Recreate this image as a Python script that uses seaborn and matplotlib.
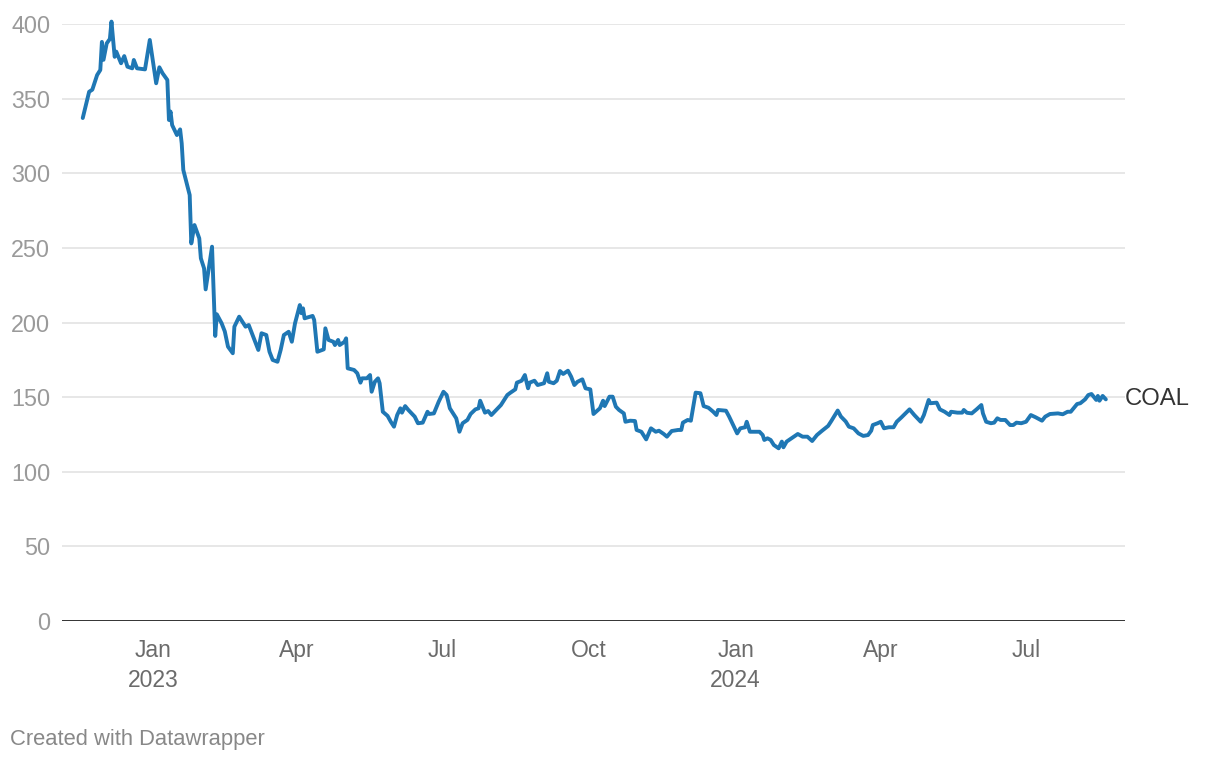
import matplotlib
matplotlib.use("Agg")
import matplotlib.pyplot as plt
import matplotlib.transforms as mtransforms
import seaborn as sns
import pandas as pd
import numpy as np

# ---- data ----
dates = [
    "2022-11-18", "2022-11-22", "2022-11-24", "2022-11-27", "2022-11-29", "2022-11-30",
    "2022-12-01", "2022-12-03", "2022-12-05", "2022-12-06", "2022-12-08", "2022-12-09",
    "2022-12-12", "2022-12-14", "2022-12-16", "2022-12-19", "2022-12-20", "2022-12-22",
    "2022-12-27", "2022-12-30",
    "2023-01-03", "2023-01-05", "2023-01-07", "2023-01-10", "2023-01-11", "2023-01-12",
    "2023-01-13", "2023-01-16", "2023-01-18", "2023-01-19", "2023-01-20", "2023-01-24",
    "2023-01-25", "2023-01-27", "2023-01-30", "2023-01-31", "2023-02-02", "2023-02-03",
    "2023-02-07", "2023-02-09", "2023-02-10", "2023-02-13", "2023-02-15", "2023-02-17",
    "2023-02-20", "2023-02-21", "2023-02-24", "2023-02-28", "2023-03-02", "2023-03-04",
    "2023-03-08", "2023-03-10", "2023-03-13", "2023-03-15", "2023-03-17", "2023-03-20",
    "2023-03-22", "2023-03-24", "2023-03-27", "2023-03-29", "2023-03-31", "2023-04-03",
    "2023-04-04", "2023-04-05", "2023-04-06", "2023-04-11", "2023-04-12", "2023-04-14",
    "2023-04-18", "2023-04-19", "2023-04-21", "2023-04-24", "2023-04-25", "2023-04-27",
    "2023-04-28", "2023-05-01", "2023-05-02", "2023-05-03", "2023-05-07", "2023-05-09",
    "2023-05-11", "2023-05-12", "2023-05-15", "2023-05-17", "2023-05-18", "2023-05-20",
    "2023-05-22", "2023-05-23", "2023-05-25", "2023-05-28", "2023-05-30", "2023-06-01",
    "2023-06-03", "2023-06-05", "2023-06-06", "2023-06-08", "2023-06-10", "2023-06-14",
    "2023-06-16", "2023-06-19", "2023-06-22", "2023-06-23", "2023-06-26", "2023-06-29",
    "2023-07-02", "2023-07-04", "2023-07-06", "2023-07-10", "2023-07-12", "2023-07-14",
    "2023-07-17", "2023-07-19", "2023-07-22", "2023-07-24", "2023-07-25", "2023-07-28",
    "2023-07-30", "2023-08-01", "2023-08-04", "2023-08-07", "2023-08-11", "2023-08-13",
    "2023-08-16", "2023-08-17", "2023-08-20", "2023-08-22", "2023-08-24", "2023-08-25",
    "2023-08-28", "2023-08-30", "2023-09-03", "2023-09-05", "2023-09-06", "2023-09-09",
    "2023-09-11", "2023-09-13", "2023-09-15", "2023-09-18", "2023-09-20", "2023-09-22",
    "2023-09-24", "2023-09-27", "2023-09-29", "2023-10-02", "2023-10-04", "2023-10-08",
    "2023-10-10", "2023-10-11", "2023-10-14", "2023-10-16", "2023-10-18", "2023-10-20",
    "2023-10-23", "2023-10-24", "2023-10-27", "2023-10-30", "2023-10-31", "2023-11-03",
    "2023-11-06", "2023-11-09", "2023-11-12", "2023-11-14", "2023-11-17", "2023-11-19",
    "2023-11-22", "2023-11-26", "2023-11-28", "2023-11-29", "2023-12-02", "2023-12-04",
    "2023-12-07", "2023-12-10", "2023-12-12", "2023-12-15", "2023-12-18", "2023-12-20",
    "2023-12-21", "2023-12-26", "2023-12-28", "2023-12-31",
    "2024-01-02", "2024-01-04", "2024-01-07", "2024-01-08", "2024-01-10", "2024-01-13",
    "2024-01-16", "2024-01-18", "2024-01-19", "2024-01-21", "2024-01-23", "2024-01-25",
    "2024-01-28", "2024-01-30", "2024-01-31", "2024-02-02", "2024-02-05", "2024-02-09",
    "2024-02-12", "2024-02-15", "2024-02-18", "2024-02-21", "2024-02-24", "2024-02-28",
    "2024-03-01", "2024-03-05", "2024-03-07", "2024-03-10", "2024-03-12", "2024-03-15",
    "2024-03-18", "2024-03-21", "2024-03-24", "2024-03-26", "2024-03-27", "2024-03-30",
    "2024-04-01", "2024-04-03", "2024-04-06", "2024-04-09", "2024-04-11", "2024-04-14",
    "2024-04-19", "2024-04-22", "2024-04-26", "2024-04-28", "2024-05-01", "2024-05-02",
    "2024-05-06", "2024-05-08", "2024-05-11", "2024-05-14", "2024-05-15", "2024-05-19",
    "2024-05-22", "2024-05-23", "2024-05-25", "2024-05-28", "2024-05-31", "2024-06-03",
    "2024-06-04", "2024-06-06", "2024-06-09", "2024-06-11", "2024-06-13", "2024-06-15",
    "2024-06-18", "2024-06-21", "2024-06-23", "2024-06-25", "2024-06-28", "2024-07-01",
    "2024-07-04", "2024-07-07", "2024-07-11", "2024-07-13", "2024-07-16", "2024-07-21",
    "2024-07-24", "2024-07-27", "2024-07-29", "2024-08-02", "2024-08-04", "2024-08-07",
    "2024-08-09", "2024-08-11", "2024-08-14", "2024-08-15", "2024-08-16", "2024-08-18",
    "2024-08-20",
]

coal = [
    337.0, 354.6, 356.0, 365.8, 369.2, 388.0,
    376.0, 387.0, 390.0, 401.6, 378.0, 381.5,
    373.7, 378.5, 371.4, 370.3, 375.9, 370.3,
    369.6, 389.3,
    360.3, 371.0, 367.0, 362.5, 335.7, 341.3,
    332.3, 325.6, 329.4, 320.0, 302.2, 285.4,
    253.0, 265.3, 256.4, 243.0, 236.3, 222.2,
    250.8, 191.0, 205.5, 199.5, 194.0, 183.8,
    179.4, 197.2, 203.9, 197.2, 198.3, 192.8,
    181.6, 192.8, 191.6, 180.4, 174.9, 173.7,
    181.6, 191.6, 193.8, 187.1, 199.5, 211.7,
    206.2, 209.5, 202.8, 204.4, 201.7, 180.4,
    182.0, 196.1, 188.3, 187.1, 184.9, 188.3,
    184.9, 187.1, 189.4, 169.3, 168.2, 166.0,
    159.7, 162.6, 162.6, 164.8, 153.6, 160.3,
    162.6, 159.3, 140.2, 137.4, 133.5, 130.2,
    138.0, 142.5, 139.6, 144.0, 141.4, 136.9,
    132.5, 132.9, 140.2, 138.7, 139.1, 146.9,
    153.6, 151.4, 142.5, 135.8, 126.8, 132.5,
    134.7, 138.7, 141.8, 142.5, 147.6, 139.6,
    140.7, 138.0, 141.4, 144.7, 151.4, 153.0,
    155.2, 159.7, 161.0, 164.8, 155.9, 159.7,
    161.0, 158.1, 159.3, 166.0, 160.3, 159.3,
    161.0, 167.5, 165.5, 167.7, 163.7, 158.1,
    160.3, 161.9, 155.9, 155.2, 138.7, 142.5,
    147.6, 144.0, 150.3, 150.3, 143.6, 141.4,
    139.1, 133.5, 134.2, 134.0, 128.0, 126.8,
    121.7, 129.1, 126.8, 127.5, 125.3, 123.5,
    127.3, 128.0, 128.0, 132.9, 134.7, 134.2,
    153.0, 152.6, 144.0, 142.9, 140.2, 138.0,
    141.4, 140.9, 136.9, 130.2,
    125.7, 129.1, 129.8, 133.5, 126.8, 126.8,
    126.8, 124.6, 121.3, 122.4, 121.3, 117.9,
    115.7, 120.2, 116.4, 120.2, 122.4, 125.3,
    123.5, 123.5, 120.6, 124.6, 127.3, 130.7,
    134.0, 141.0, 137.0, 133.7, 130.2, 129.1,
    125.7, 124.0, 124.6, 127.5, 131.3, 132.5,
    133.5, 129.1, 129.8, 129.8, 133.5, 136.5,
    141.8, 138.0, 133.5, 138.0, 148.1, 145.9,
    146.3, 141.8, 140.2, 138.0, 140.2, 139.6,
    139.6, 141.4, 139.5, 139.1, 141.8, 144.7,
    139.1, 133.5, 132.5, 132.9, 135.8, 134.7,
    134.7, 131.3, 131.3, 132.9, 132.5, 133.5,
    138.0, 136.5, 134.2, 136.9, 138.7, 139.1,
    138.5, 140.2, 140.2, 145.4, 145.9, 148.5,
    151.4, 152.1, 148.1, 150.8, 147.6, 150.8,
    148.5,
]

series_name = "COAL"
y_ticks = [0, 50, 100, 150, 200, 250, 300, 350, 400]
x_tick_dates = ["2023-01-01", "2023-04-01", "2023-07-01", "2023-10-01",
                "2024-01-01", "2024-04-01", "2024-07-01"]
x_tick_labels = ["Jan\n2023", "Apr", "Jul", "Oct", "Jan\n2024", "Apr", "Jul"]
credit = "Created with Datawrapper"

df = pd.DataFrame({"date": pd.to_datetime(dates), "value": coal})

# ---- style ----
sns.set_theme(style="white")
plt.rcParams["font.family"] = ["Liberation Sans", "DejaVu Sans"]

W, H = 1220, 760
fig = plt.figure(figsize=(W / 100, H / 100), dpi=100)
ax = fig.add_axes([62 / W, 1 - 621 / H, (1125 - 62) / W, (621 - 24) / H])

for yv in y_ticks[1:]:
    ax.axhline(yv, color="#e3e3e3", lw=1.2, zorder=0)
ax.axhline(0, color="#333333", lw=1.4, zorder=3)

sns.lineplot(data=df, x="date", y="value", ax=ax, color="#1f77b4",
             linewidth=2.8, zorder=4, clip_on=False)

ax.set_ylim(0, 400)
ax.set_xlim(pd.Timestamp("2022-11-05"), pd.Timestamp("2024-09-01"))

for s in ax.spines.values():
    s.set_visible(False)
ax.grid(False)

ax.set_yticks(y_ticks)
ax.set_yticklabels([str(v) for v in y_ticks])
ax.tick_params(axis="y", length=0, pad=8.5, labelsize=16.8, labelcolor="#9a9a9a")

ax.set_xticks(pd.to_datetime(x_tick_dates))
ax.set_xticklabels(x_tick_labels, linespacing=1.38)
ax.tick_params(axis="x", length=0, pad=13, labelsize=16.5, labelcolor="#6b6b6b")

ax.set_xlabel("")
ax.set_ylabel("")

trans = mtransforms.blended_transform_factory(ax.transAxes, ax.transData)
ax.text(1.0, coal[-1], series_name, transform=trans, ha="left", va="center",
        fontsize=17.2, color="#333333")

fig.text(10 / W, 1 - 739 / H, credit, ha="left", va="center",
         fontsize=15.8, color="#888888")

fig.savefig("out.png", dpi=100)
